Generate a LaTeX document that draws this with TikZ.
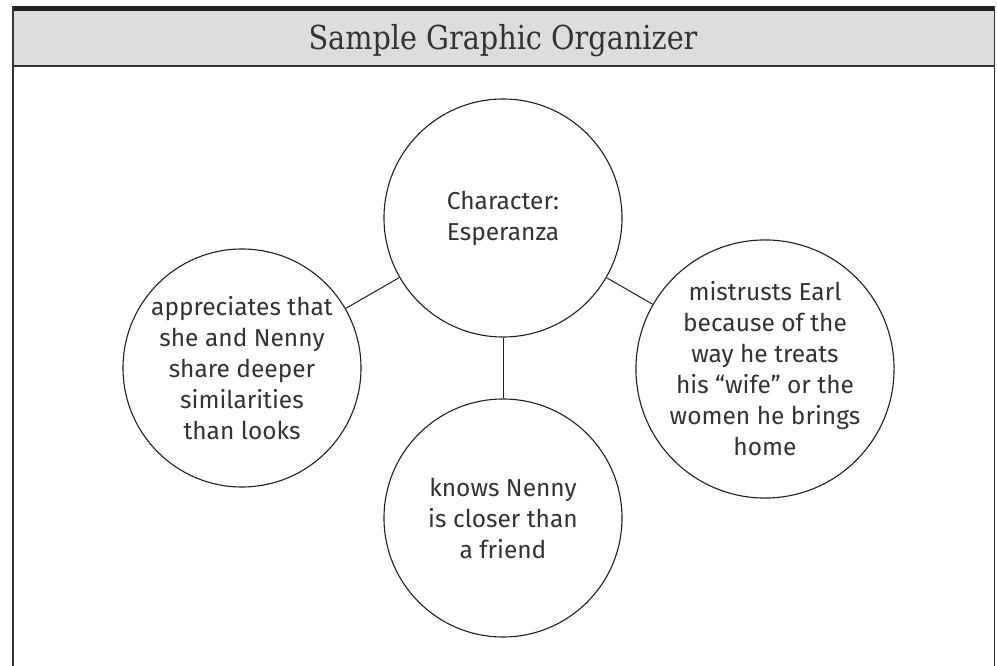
\documentclass[tikz,border=0pt]{standalone}
\usepackage{fontspec}
\setmainfont{Fira Sans}
\newfontfamily\titlefont[FakeStretch=0.87]{DejaVu Serif}
\definecolor{hdrgray}{HTML}{DCDDDE}
\definecolor{inkdark}{HTML}{231F20}
\definecolor{txtgray}{HTML}{333333}
\tikzset{
  bubble/.style={circle, draw=inkdark, line width=1.1pt, minimum size=238pt, inner sep=0pt,
    align=center, text=txtgray, font=\fontsize{24.5}{31}\selectfont},
  link/.style={draw=inkdark, line width=1pt},
  frameline/.style={draw=txtgray, line width=1.6pt}
}
\begin{document}
\begin{tikzpicture}[x=1pt,y=-1pt]
\useasboundingbox[fill=white] (0,0) rectangle (997,666);
% header
\fill[hdrgray] (12,11) rectangle (995,66);
\fill[inkdark] (12,6) rectangle (995,11);
\draw[draw=txtgray, line width=2pt] (12,66.5) -- (995,66.5);
\draw[frameline] (12.8,6) -- (12.8,666);
\draw[frameline] (994.4,6) -- (994.4,666);
\node[anchor=base, text=txtgray, font=\titlefont\fontsize{33}{36}\selectfont] (title) at (503,50) {Sample Graphic Organizer};
% circles
\node[bubble] (c) at (503,218) {Character:\\Esperanza};
\node[bubble] (l) at (242,368) {appreciates that\\she and Nenny\\share deeper\\similarities\\than looks};
\node[bubble] (r) at (765,369) {mistrusts Earl\\because of the\\way he treats\\his “wife” or the\\women he brings\\home};
\node[bubble] (b) at (503,518) {knows Nenny\\is closer than\\a friend};
\draw[link] (c) -- (l);
\draw[link] (c) -- (r);
\draw[link] (c) -- (b);
\end{tikzpicture}
\end{document}
